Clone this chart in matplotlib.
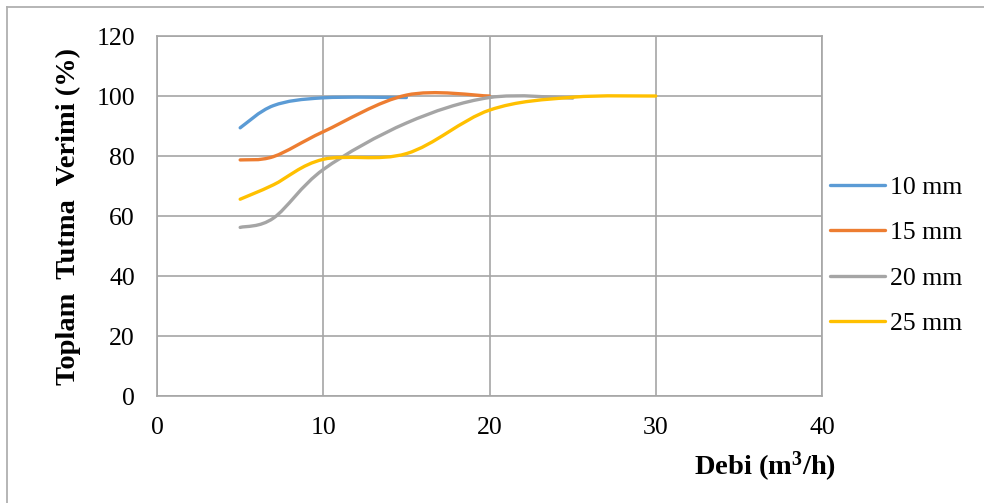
import matplotlib.pyplot as plt
from matplotlib.lines import Line2D
from matplotlib.patches import PathPatch
from matplotlib.path import Path
import numpy as np

plt.rcParams["font.family"] = ["Liberation Serif", "DejaVu Serif"]

SERIES = ["10 mm", "15 mm", "20 mm", "25 mm"]
COLORS = ["#5B9BD5", "#ED7D31", "#A5A5A5", "#FFC000"]

x_10 = [5, 7, 10, 15]
y_10 = [89.4, 96.8, 99.4, 99.5]

x_15 = [5, 7, 10, 15, 20]
y_15 = [78.7, 79.8, 88.1, 100.3, 100.0]

x_20 = [5, 7, 10, 15, 20, 25]
y_20 = [56.2, 59.3, 75.5, 91.0, 99.5, 99.3]

x_25 = [5, 7, 10, 15, 20, 25, 30]
y_25 = [65.6, 70.4, 78.9, 80.8, 95.3, 99.6, 100.0]

DATA = [(x_10, y_10), (x_15, y_15), (x_20, y_20), (x_25, y_25)]


def smooth_path(xs, ys):
    # Bezier curve through the points, like Excel's "smoothed line"
    p = np.column_stack([xs, ys]).astype(float)
    n = len(p)
    verts = [p[0]]
    codes = [Path.MOVETO]
    for i in range(n - 1):
        p0 = p[i - 1] if i > 0 else p[i]
        p3 = p[i + 2] if i + 2 < n else p[i + 1]
        c1 = p[i] + (p[i + 1] - p0) / 6.0
        c2 = p[i + 1] - (p3 - p[i]) / 6.0
        verts += [c1, c2, p[i + 1]]
        codes += [Path.CURVE4] * 3
    return Path(verts, codes)


fig = plt.figure(figsize=(9.84, 5.03), dpi=100)
ax = fig.add_axes([0.1596, 0.2127, 0.6758, 0.7157])

grid_c = "#a6a6a6"
for (xs, ys), c in zip(DATA, COLORS):
    ax.add_patch(PathPatch(smooth_path(xs, ys), fill=False, edgecolor=c,
                           linewidth=2.4, capstyle="round", zorder=3))

ax.set_xlim(0, 40)
ax.set_ylim(0, 120)
ax.set_xticks(range(0, 41, 10))
ax.set_yticks(range(0, 121, 20))
ax.grid(True, color=grid_c, linewidth=1.2)
ax.set_axisbelow(True)
for s in ax.spines.values():
    s.set_color(grid_c)
    s.set_linewidth(1.2)
ax.tick_params(length=0, labelsize=18.5, colors="black")
ax.tick_params(axis="y", pad=16)
ax.tick_params(axis="x", pad=15)

ax.set_ylabel("Toplam  Tutma  Verimi (%)", fontsize=20.5, fontweight="bold",
              labelpad=11)
fig.text(765 / 984, 1 - 467 / 503, "Debi (m$\\mathregular{^3}$/h)",
         fontsize=20.5, fontweight="bold", ha="center", va="center")

handles = [Line2D([], [], color=c, linewidth=2.4, solid_capstyle="round")
           for c in COLORS]
fig.legend(handles, SERIES, loc="center left", bbox_to_anchor=(0.8435, 0.492),
           frameon=False, fontsize=18.5, handlelength=2.14, handletextpad=0.2,
           labelspacing=0.88, borderpad=0, borderaxespad=0)

# outer chart-area border (only top and left visible in the crop)
fig.add_artist(Line2D([6.5 / 984, 6.5 / 984], [0, 1 - 6.5 / 503],
                      color="#b0b0b0", linewidth=1.3, transform=fig.transFigure))
fig.add_artist(Line2D([6.5 / 984, 1], [1 - 6.5 / 503, 1 - 6.5 / 503],
                      color="#b0b0b0", linewidth=1.3, transform=fig.transFigure))

fig.savefig("out.png", dpi=100)
